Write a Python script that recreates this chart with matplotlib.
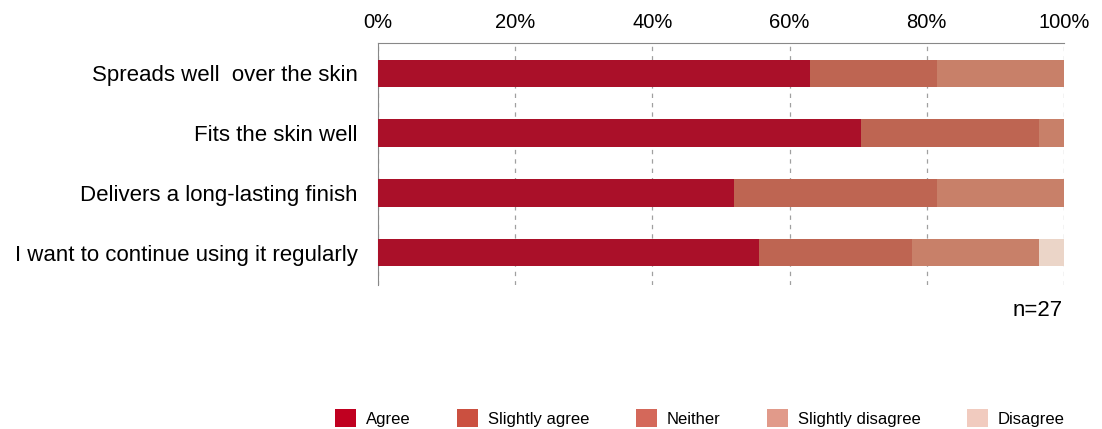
import matplotlib
matplotlib.use("Agg")
import matplotlib.pyplot as plt
from matplotlib.patches import Patch
import numpy as np

plt.rcParams['font.family'] = ['Liberation Sans', 'DejaVu Sans']

categories = ["Spreads well  over the skin", "Fits the skin well",
              "Delivers a long-lasting finish", "I want to continue using it regularly"]
series_names = ["Agree", "Slightly agree", "Neither", "Slightly disagree", "Disagree"]
n_total = 27
agree = [17, 19, 14, 15]
slightly_agree = [5, 7, 8, 6]
neither = [5, 1, 5, 5]
slightly_disagree = [0, 0, 0, 0]
disagree = [0, 0, 0, 1]
xtick_labels = ["0%", "20%", "40%", "60%", "80%", "100%"]

bar_colors = ["#AA1029", "#BE6552", "#C88069", "#DDA595", "#EBD5C8"]
legend_colors = ["#C00020", "#CB5040", "#D4685A", "#E19A8A", "#F1CBBF"]

fig = plt.figure(figsize=(11.02, 4.29), dpi=100)
ax = fig.add_axes([0.343, 0.336, 0.6225, 0.564])

series = [agree, slightly_agree, neither, slightly_disagree, disagree]
y = np.arange(len(categories))
left = np.zeros(len(categories))
for vals, col in zip(series, bar_colors):
    pct = np.array(vals) / n_total * 100
    ax.barh(y, pct, left=left, height=0.46, color=col, zorder=3)
    left += pct

ax.set_xlim(0, 100)
ax.set_ylim(3.54, -0.51)
ax.set_yticks(y)
ax.set_yticklabels(categories, fontsize=16)
ax.set_xticks(np.arange(0, 101, 20))
ax.set_xticklabels(xtick_labels, fontsize=14.5)
ax.xaxis.tick_top()
ax.tick_params(axis='x', length=0, pad=8)
ax.tick_params(axis='y', length=0, pad=14.4)
ax.grid(axis='x', linestyle=(0, (3.5, 4)), color='#A0A0A0', linewidth=0.9, zorder=0)
for s in ['right', 'bottom']:
    ax.spines[s].set_visible(False)
ax.spines['top'].set_color('#888888')
ax.spines['left'].set_color('#888888')

fig.text(0.9645, 1 - 311 / 429, "n=27", fontsize=16, ha='right', va='center')

handles = [Patch(facecolor=c, edgecolor='none') for c in legend_colors]
fig.legend(handles, series_names, loc='center right', bbox_to_anchor=(0.980, 0.025),
           ncol=5, frameon=False, fontsize=12, handlelength=1.25, handleheight=1.25,
           handletextpad=0.6, columnspacing=2.8)

fig.savefig("out.png", dpi=100)
